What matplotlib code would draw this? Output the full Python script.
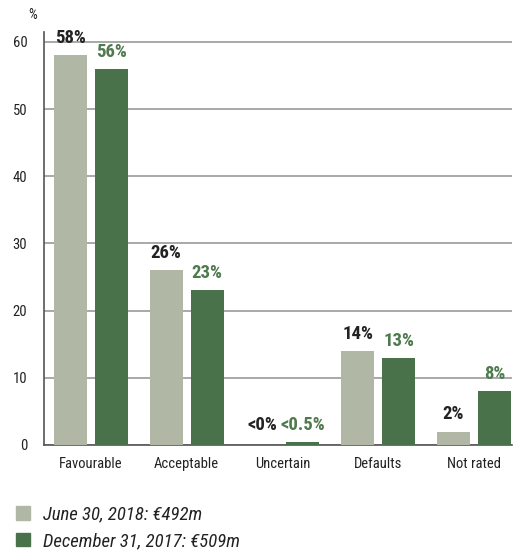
import matplotlib.pyplot as plt
import numpy as np
from matplotlib.patches import Patch

plt.rcParams['font.family'] = ['Roboto Condensed', 'DejaVu Sans']

categories = ['Favourable', 'Acceptable', 'Uncertain', 'Defaults', 'Not rated']
jun_2018 = [58, 26, 0, 14, 2]
dec_2017 = [56, 23, 0.5, 13, 8]
jun_labels = ['58%', '26%', '<0%', '14%', '2%']
dec_labels = ['56%', '23%', '<0.5%', '13%', '8%']
legend_labels = ['June 30, 2018: €492m', 'December 31, 2017: €509m']

light = '#b0b8a5'
dark = '#4a724a'

fig = plt.figure(figsize=(5.2, 5.51), dpi=100)
ax = fig.add_axes([0.0846, 0.1924, 0.9, 0.75])

x = np.arange(len(categories))
w = 0.345
off = 0.214
ax.bar(x - off, jun_2018, w, color=light, zorder=3)
ax.bar(x + off, dec_2017, w, color=dark, zorder=3)

for i in range(len(categories)):
    # tiny values get lifted a bit so the labels stay clear of the baseline
    jy = max(jun_2018[i], 0.5) + 1.2
    dy = max(dec_2017[i], 0.5) + 1.2
    ax.text(x[i] - off, jy, jun_labels[i], ha='center', va='bottom',
            fontsize=13.5, fontweight='bold', color='#222222')
    ax.text(x[i] + off, dy, dec_labels[i], ha='center', va='bottom',
            fontsize=13.5, fontweight='bold', color='#4e7a4e')

ax.set_xlim(-0.49, 4.397)
ax.set_ylim(0, 61.5)
ax.set_yticks(range(0, 61, 10))
ax.set_xticks(x)
ax.set_xticklabels(categories)
ax.tick_params(axis='both', length=0, labelsize=10.5, colors='#222222')
ax.tick_params(axis='x', pad=9)
ax.tick_params(axis='y', pad=12)
ax.grid(axis='y', color='#999999', linewidth=1.2, zorder=0)
for s in ['top', 'right']:
    ax.spines[s].set_visible(False)
ax.spines['left'].set_color('#555555')
ax.spines['bottom'].set_color('#555555')
ax.spines['bottom'].set_linewidth(1.2)
ax.spines['left'].set_linewidth(1.2)

fig.text(0.0625, 0.973, '%', fontsize=10, color='#222222', ha='center', va='center')

handles = [Patch(color=light), Patch(color=dark)]
fig.legend(handles, legend_labels, loc='lower left', bbox_to_anchor=(0.016, -0.012),
           borderaxespad=0, frameon=False, prop={'size': 13.5, 'style': 'italic'},
           handlelength=0.75, handleheight=0.75, handletextpad=0.7, labelspacing=0.44,
           labelcolor='#222222')

fig.savefig('out.png', dpi=100)
